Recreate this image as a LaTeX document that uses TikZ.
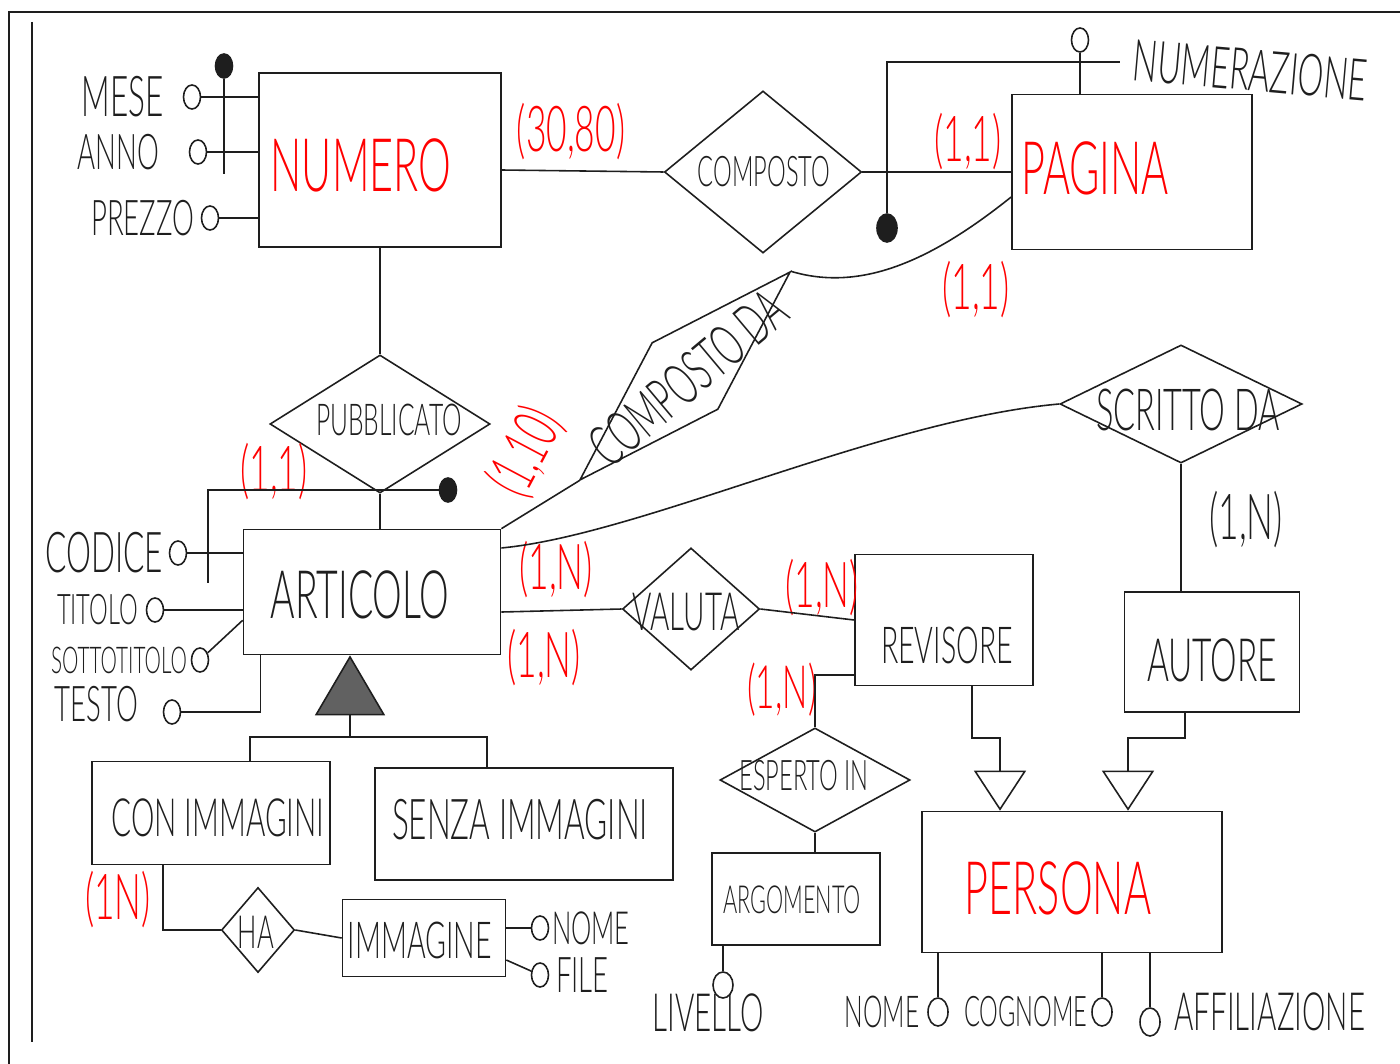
\documentclass[tikz,border=0pt]{standalone}
\usepackage{fontspec}
\usepackage{tikz}
\usetikzlibrary{positioning,arrows.meta,shapes.geometric}
\newfontfamily\hand[FakeStretch=0.56]{Lato Light}
\definecolor{ink}{HTML}{1E1E1E}
\definecolor{redpen}{HTML}{FF0000}

\begin{document}
\begin{tikzpicture}[
  x=0.01cm, y=-0.01cm,
  ent/.style={draw=ink,line width=0.45pt,rectangle,inner sep=0pt},
  rel/.style={draw=ink,line width=0.45pt,diamond,inner sep=0pt},
  att/.style={draw=ink,line width=0.45pt,ellipse,inner sep=0pt,
              minimum width=0.17cm,minimum height=0.24cm},
  idkey/.style={att,fill=ink},
  lbl/.style={font=\hand\fontsize{#1}{#1}\selectfont,inner sep=0pt,text=ink},
  lbl/.default=14,
  big/.style={lbl=21,text=redpen},
  card/.style={lbl=18,text=redpen},
  link/.style={draw=ink,line width=0.45pt},
  isaopen/.style={link,-{Triangle[open,length=0.4cm,width=0.52cm]}},
  isafull/.style={link,-{Triangle[length=0.6cm,width=0.7cm,fill=ink!70]}}
]
\useasboundingbox (0,0) rectangle (1400,1064);
% sheet border
\draw[ink,line width=0.7pt] (9,1064) -- (9,12) -- (1400,12);
\draw[ink,line width=0.5pt] (32,22) -- (32,1042);

% entities
\node[ent,minimum width=2.42cm,minimum height=1.74cm] (num) at (380,160) {};
\node[big] (numtxt) at (361,165) {NUMERO};
\node[ent,minimum width=2.40cm,minimum height=1.55cm] (pag) at (1132,172) {};
\node[big] (pagtxt) at (1095,168) {PAGINA};
\node[ent,minimum width=2.57cm,minimum height=1.25cm] (art) at (372,592) {};
\node[lbl=19] (arttxt) at (360,595) {ARTICOLO};
\node[ent,minimum width=2.38cm,minimum height=1.03cm] (conimm) at (211,813) {};
\node[lbl=15] (conimmtxt) at (218,818) {CON IMMAGINI};
\node[ent,minimum width=2.98cm,minimum height=1.12cm] (senza) at (524,824) {};
\node[lbl=16] (senzatxt) at (520,820) {SENZA IMMAGINI};
\node[ent,minimum width=1.63cm,minimum height=0.77cm] (imm) at (424,938) {};
\node[lbl=14.5] (immtxt) at (420,940) {IMMAGINE};
\node[ent,minimum width=1.78cm,minimum height=1.31cm] (rev) at (944,620) {};
\node[lbl=14.5] (revtxt) at (947,645) {REVISORE};
\node[ent,minimum width=1.75cm,minimum height=1.20cm] (aut) at (1212,652) {};
\node[lbl=17] (auttxt) at (1212,660) {AUTORE};
\node[ent,minimum width=1.68cm,minimum height=0.92cm] (arg) at (796,899) {};
\node[lbl=11] (argtxt) at (792,900) {ARGOMENTO};
\node[ent,minimum width=3.00cm,minimum height=1.41cm] (pers) at (1072,882) {};
\node[big] (perstxt) at (1058,888) {PERSONA};

% relationships
\node[rel,minimum width=1.97cm,minimum height=1.62cm] (comp) at (763,172) {};
\node[lbl=12] (comptxt) at (764,172) {COMPOSTO};
\node[rel,minimum width=2.20cm,minimum height=1.38cm] (pub) at (380,424) {};
\node[lbl=12.5] (pubtxt) at (389,420) {PUBBLICATO};
\node[rel,minimum width=1.37cm,minimum height=1.22cm] (val) at (691,609) {};
\node[lbl=15] (valtxt) at (686,612) {VALUTA};
\node[rel,minimum width=2.42cm,minimum height=1.18cm] (scr) at (1181,404) {};
\node[lbl=16.5] (scrtxt) at (1188,410) {SCRITTO DA};
\node[rel,minimum width=1.90cm,minimum height=1.04cm] (esp) at (815,780) {};
\node[lbl=12] (esptxt) at (804,776) {ESPERTO IN};
\node[rel,minimum width=0.73cm,minimum height=0.85cm] (ha) at (258,930) {};
\node[lbl=13] (hatxt) at (256,932) {HA};
\node[rel,rotate=44.7,minimum width=2.96cm,minimum height=0.94cm] (compda) at (685,376) {};
\node[lbl=16.5,rotate=40] (compdatxt) at (688,378) {COMPOSTO DA};

% attributes
\node[att] (amese) at (192,97) {};
\node[lbl=16,left=0.18cm of amese] (mese) {MESE};
\node[att] (aanno) at (198,152) {};
\node[lbl=14,left=0.29cm of aanno] (anno) {ANNO};
\node[att] (aprezzo) at (210,218) {};
\node[lbl=14,left=0.06cm of aprezzo] (prezzo) {PREZZO};
\node[idkey] (numkey) at (224,66) {};

\node[att] (anumer) at (1080,40) {};
\node[lbl=16.5,anchor=west,rotate=-5] (numer) at (1133,60) {NUMERAZIONE};
\node[idkey,minimum width=0.2cm,minimum height=0.28cm] (pagkey) at (887,228) {};
\coordinate (pagkeyend) at (1120,62);

\node[att] (acod) at (178,553) {};
\node[lbl=16,left=0.05cm of acod] (codice) {CODICE};
\node[att] (atit) at (155,610) {};
\node[lbl=12,left=0.07cm of atit] (titolo) {TITOLO};
\node[att] (asot) at (200,660) {};
\node[lbl=10.5,left=0.03cm of asot] (sottotitolo) {SOTTOTITOLO};
\node[att] (ates) at (172,712) {};
\node[lbl=14,left=0.24cm of ates,yshift=0.08cm] (testo) {TESTO};
\node[idkey] (artkey) at (448,490) {};
\coordinate (artkeyend) at (208,583);

\node[att] (anomef) at (540,928) {};
\node[lbl=13,right=0.02cm of anomef] (nomef) {NOME};
\node[att] (afile) at (540,975) {};
\node[lbl=14,right=0.06cm of afile] (file) {FILE};

\node[att,minimum width=0.2cm,minimum height=0.26cm] (aliv) at (723,985) {};
\node[lbl=15] (liv) at (708,1013) {LIVELLO};

\node[att,minimum width=0.2cm,minimum height=0.28cm] (anome) at (938,1012) {};
\node[lbl=12.5,left=0.07cm of anome] (nome) {NOME};
\node[att,minimum width=0.2cm,minimum height=0.28cm] (acogn) at (1102,1012) {};
\node[lbl=12,left=0.03cm of acogn] (cognome) {COGNOME};
\node[att,minimum width=0.2cm,minimum height=0.28cm] (aaff) at (1150,1022) {};
\node[lbl=15,right=0.13cm of aaff,yshift=0.1cm] (affil) {AFFILIAZIONE};

% cardinalities
\node[card] (c1) at (571,132) {(30,80)};
\node[card] (c2) at (968,142) {(1,1)};
\node[card] (c3) at (976,290) {(1,1)};
\node[card] (c4) at (274,472) {(1,1)};
\node[card,rotate=62] (c5) at (526,452) {(1,10)};
\node[card] (c6) at (556,570) {(1,N)};
\node[card] (c7) at (544,658) {(1,N)};
\node[card] (c8) at (822,588) {(1,N)};
\node[card,lbl=17,text=redpen] (c9) at (782,690) {(1,N)};
\node[card] (c10) at (118,900) {(1N)};
\node[card,text=ink] (c11) at (1246,520) {(1,N)};

% connectors
\draw[link] ([yshift=-0.1cm]num.east) -- (comp.west);
\draw[link] (comp.east) -- (comp.east -| pag.west);
\draw[link] ([yshift=-0.25cm]pag.west) .. controls (930,262) and (860,292) .. (compda.east);
\draw[link] (art.north east) -- (compda.west);
\draw[link] (pub.north |- num.south) -- (pub.north);
\draw[link] (pub.south) -- (pub.south |- art.north);
\draw[link] ([yshift=0.44cm]art.east) .. controls (640,535) and (880,420) .. (scr.west);
\draw[link] ([yshift=-0.2cm]art.east) -- (val.west);
\draw[link] (val.east) -- (rev.west);
\draw[link] (scr.south) -- (scr.south |- aut.north);
\draw[link] ([yshift=-0.55cm]rev.west) -| (esp.north);
\draw[link] (esp.south) -- (esp.south |- arg.north);
\draw[link] ([xshift=-0.48cm]conimm.south) |- (ha.west);
\draw[link] (ha.east) -- (imm.west);

% attribute lines
\draw[link] (amese) -- (amese -| num.west);
\draw[link] (aanno) -- (aanno -| num.west);
\draw[link] (aprezzo) -- (aprezzo -| num.west);
\draw[link] (numkey) -- ([yshift=-0.22cm]numkey |- aanno);
\draw[link] (anumer) -- (anumer |- pag.north);
\draw[link] (pagkey) |- (pagkeyend);
\draw[link] (acod) -- (acod -| art.west);
\draw[link] (atit) -- (atit -| art.west);
\draw[link] (asot) -- ([yshift=0.35cm]art.south west);
\draw[link] (ates) -| ([xshift=0.18cm]art.south west);
\draw[link] (artkey) -| (artkeyend);
\draw[link] (anomef) -- (anomef -| imm.east);
\draw[link] (afile) -- ([yshift=-0.22cm]imm.east);
\draw[link] (aliv) -- (aliv |- arg.south);
\draw[link] (anome) -- (anome |- pers.south);
\draw[link] (acogn) -- (acogn |- pers.south);
\draw[link] (aaff) -- (aaff |- pers.south);

% generalisations
\coordinate (isaart) at (350,737);
\draw[isafull] (isaart) -- (isaart |- art.south);
\draw[link] ([xshift=0.39cm]conimm.north) |- (isaart) -| ([xshift=-0.37cm]senza.north);
\coordinate (revbend) at (1000,738);
\draw[isaopen] ([xshift=0.28cm]rev.south) |- (revbend) -- (revbend |- pers.north);
\coordinate (autbend) at (1128,738);
\draw[isaopen] ([xshift=-0.27cm]aut.south) |- (autbend) -- (autbend |- pers.north);
\end{tikzpicture}
\end{document}
